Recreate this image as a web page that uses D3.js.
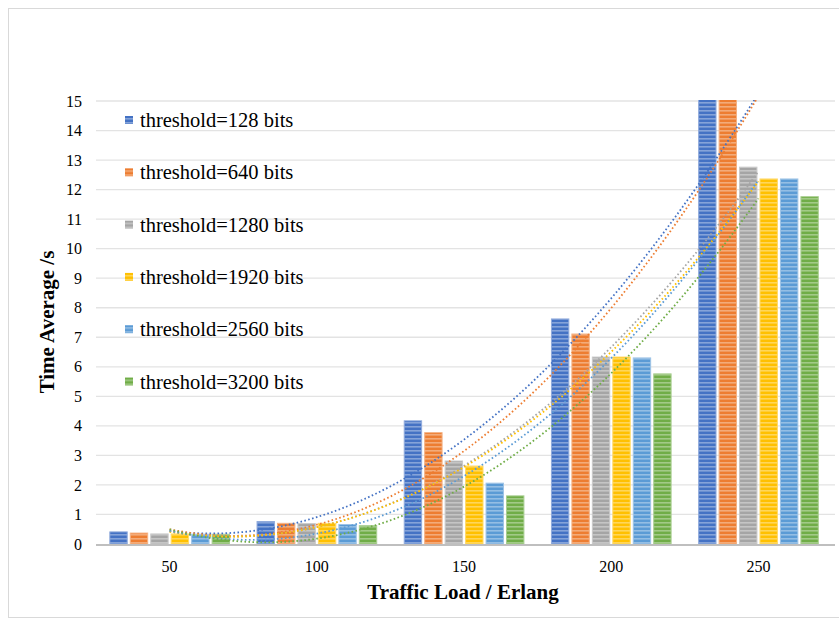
<!DOCTYPE html>
<html>
<head>
<meta charset="utf-8">
<script src="https://cdn.jsdelivr.net/npm/d3@7"></script>
<style>
  body { margin: 0; background: #fff; }
  text { font-family: "Liberation Serif", "Times New Roman", serif; }
</style>
</head>
<body>
<div id="chart"></div>
<script>
const categories = ["50", "100", "150", "200", "250"];
const seriesNames = ["threshold=128 bits", "threshold=640 bits", "threshold=1280 bits",
                     "threshold=1920 bits", "threshold=2560 bits", "threshold=3200 bits"];
const seriesColors = ["#4472C4", "#ED7D31", "#A5A5A5", "#FFC000", "#5B9BD5", "#70AD47"];
const t128  = [0.41, 0.76, 4.17, 7.62, 15.5];
const t640  = [0.37, 0.70, 3.77, 7.11, 15.5];
const t1280 = [0.34, 0.69, 2.81, 6.33, 12.76];
const t1920 = [0.34, 0.70, 2.64, 6.33, 12.36];
const t2560 = [0.33, 0.66, 2.06, 6.30, 12.36];
const t3200 = [0.33, 0.62, 1.63, 5.76, 11.76];
const yTicks = d3.range(0, 16);

const values = [t128, t640, t1280, t1920, t2560, t3200];
const series = seriesNames.map((name, i) => ({name, color: seriesColors[i], values: values[i], id: i}));

const W = 839, H = 619;
const plot = {left: 96, right: 832, top: 101, bottom: 544};

const svg = d3.select("#chart").append("svg")
  .attr("width", W).attr("height", H);

// outer frame
svg.append("rect")
  .attr("x", 8.5).attr("y", 8.5)
  .attr("width", 840).attr("height", 609)
  .attr("fill", "#fff").attr("stroke", "#d9d9d9");

const defs = svg.append("defs");
defs.append("clipPath").attr("id", "plotclip")
  .append("rect")
  .attr("x", plot.left).attr("y", plot.top - 1)
  .attr("width", plot.right - plot.left).attr("height", plot.bottom - plot.top + 1);

// striped fills like the reference bars
series.forEach(s => {
  const c = d3.color(s.color);
  const p = defs.append("pattern")
    .attr("id", "pat" + s.id)
    .attr("patternUnits", "userSpaceOnUse")
    .attr("width", 4).attr("height", 4);
  p.append("rect").attr("width", 4).attr("height", 4).attr("fill", s.color);
  p.append("rect").attr("y", 2).attr("width", 4).attr("height", 1.6)
    .attr("fill", d3.interpolateRgb(c, "#fff")(0.35));
});

const x0 = d3.scaleBand()
  .domain(categories)
  .range([plot.left, plot.right])
  .padding(0);

const x1 = d3.scaleBand()
  .domain(series.map(s => s.id))
  .range([x0.bandwidth() * 0.094, x0.bandwidth() * 0.907])
  .paddingInner(0.15)
  .paddingOuter(0);

const y = d3.scaleLinear()
  .domain([0, 15])
  .range([plot.bottom, plot.top]);

// gridlines
svg.append("g")
  .selectAll("line")
  .data(yTicks.slice(1))
  .join("line")
  .attr("x1", plot.left).attr("x2", plot.right + 3)
  .attr("y1", d => y(d)).attr("y2", d => y(d))
  .attr("stroke", "#e3e3e3")
  .attr("stroke-width", 1.3);

// y tick labels
svg.append("g")
  .selectAll("text")
  .data(yTicks)
  .join("text")
  .attr("x", 82)
  .attr("y", d => y(d))
  .attr("dy", "0.35em")
  .attr("text-anchor", "end")
  .style("font-size", "16px")
  .text(d => d);

// bars
const plotG = svg.append("g").attr("clip-path", "url(#plotclip)");

plotG.selectAll("g.series")
  .data(series)
  .join("g")
  .attr("class", "series")
  .selectAll("rect")
  .data(s => s.values.map((v, i) => ({v, cat: categories[i], s})))
  .join("rect")
  .attr("x", d => x0(d.cat) + x1(d.s.id))
  .attr("y", d => y(d.v))
  .attr("width", x1.bandwidth())
  .attr("height", d => y(0) - y(d.v))
  .attr("fill", d => "url(#pat" + d.s.id + ")")
  .attr("stroke", d => d3.interpolateRgb(d.s.color, "#fff")(0.4))
  .attr("stroke-width", 1);

// x axis line
svg.append("line")
  .attr("x1", plot.left).attr("x2", plot.right + 3)
  .attr("y1", plot.bottom + 1).attr("y2", plot.bottom + 1)
  .attr("stroke", "#bfbfbf")
  .attr("stroke-width", 2);

// polynomial (order 2) trendlines, fitted to each series like Excel does
function quadFit(vals) {
  const xs = vals.map((_, i) => i + 1);
  const xm = d3.mean(xs);
  const t = xs.map(v => v - xm);
  const tt = d3.mean(t.map(v => v * v));
  const q = t.map(v => v * v - tt);
  const a = d3.mean(vals);
  const b = d3.sum(vals.map((v, i) => v * t[i])) / d3.sum(t.map(v => v * v));
  const c = d3.sum(vals.map((v, i) => v * q[i])) / d3.sum(q.map(v => v * v));
  return xv => { const tv = xv - xm; return a + b * tv + c * (tv * tv - tt); };
}

const xc = d3.scaleLinear()
  .domain([1, categories.length])
  .range([x0(categories[0]) + x0.bandwidth() / 2,
          x0(categories[categories.length - 1]) + x0.bandwidth() / 2]);

const line = d3.line().x(d => xc(d[0])).y(d => y(d[1]));
const xsSample = d3.range(1, 5.0001, 0.02);

plotG.selectAll("path.trend")
  .data(series)
  .join("path")
  .attr("class", "trend")
  .attr("fill", "none")
  .attr("stroke", s => s.color)
  .attr("stroke-width", 1.8)
  .attr("stroke-dasharray", "1.6,2.4")
  .attr("d", s => { const f = quadFit(s.values); return line(xsSample.map(v => [v, f(v)])); });

// x tick labels
svg.append("g")
  .selectAll("text")
  .data(categories)
  .join("text")
  .attr("x", d => x0(d) + x0.bandwidth() / 2)
  .attr("y", 566)
  .attr("dy", "0.35em")
  .attr("text-anchor", "middle")
  .style("font-size", "16px")
  .text(d => d);

// axis titles
svg.append("text")
  .attr("x", 463).attr("y", 592)
  .attr("dy", "0.35em")
  .attr("text-anchor", "middle")
  .style("font-size", "21px")
  .style("font-weight", "bold")
  .text("Traffic Load / Erlang");

svg.append("text")
  .attr("transform", "translate(47,322) rotate(-90)")
  .attr("dy", "0.35em")
  .attr("text-anchor", "middle")
  .style("font-size", "21px")
  .style("font-weight", "bold")
  .text("Time Average /s");

// legend
const legend = svg.append("g")
  .selectAll("g")
  .data(series)
  .join("g")
  .attr("transform", (d, i) => `translate(125, ${120 + i * 52.3})`);

legend.append("rect")
  .attr("x", 0).attr("y", -4)
  .attr("width", 8).attr("height", 8)
  .attr("fill", d => "url(#pat" + d.id + ")");

legend.append("text")
  .attr("x", 15).attr("y", 0)
  .attr("dy", "0.35em")
  .style("font-size", "20.5px")
  .text(d => d.name);
</script>
</body>
</html>
